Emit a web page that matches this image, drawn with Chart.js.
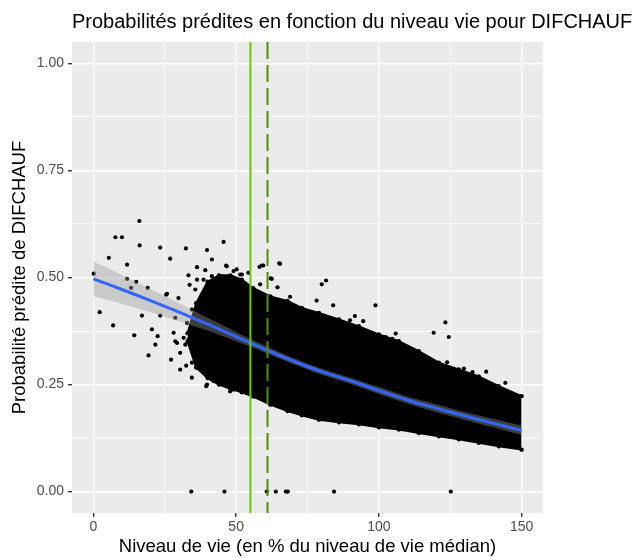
<!DOCTYPE html>
<html lang="fr">
<head>
<meta charset="utf-8">
<script src="https://cdn.jsdelivr.net/npm/chart.js@4.4.1/dist/chart.umd.min.js"></script>
<style>
  body { margin: 0; background: #fff; }
  canvas { display: block; }
</style>
</head>
<body>
<canvas id="probChart" width="638" height="558"></canvas>
<script>
const chartTitle = 'Probabilités prédites en fonction du niveau vie pour DIFCHAUF';

// axis ticks (major labelled, minor only as grid lines)
const xTicks = [0, 50, 100, 150];
const xMinor = [25, 75, 125];
const yTicks = [0, 0.25, 0.5, 0.75, 1];
const yMinor = [0.125, 0.375, 0.625, 0.875];

// fitted logistic curve and its confidence band
const fitX = [0, 10, 20, 30, 40, 50, 60, 70, 80, 90, 100, 110, 120, 130, 140, 150];
const fitY = [0.497, 0.472, 0.446, 0.419, 0.391, 0.362, 0.333, 0.305, 0.280, 0.259, 0.236, 0.214, 0.195, 0.177, 0.160, 0.143];
const ciHigh = [0.538, 0.506, 0.473, 0.440, 0.406, 0.373, 0.341, 0.312, 0.287, 0.266, 0.244, 0.222, 0.204, 0.186, 0.170, 0.154];
const ciLow = [0.456, 0.438, 0.419, 0.398, 0.376, 0.351, 0.325, 0.298, 0.273, 0.252, 0.228, 0.206, 0.186, 0.168, 0.150, 0.132];

// dense body of the point cloud (upper / lower edge)
const cloudX = [33, 36, 40, 44, 48, 52, 56, 62, 68, 73, 79, 86, 93, 100, 107, 114, 121, 128, 135, 142, 150];
const cloudHigh = [0.37, 0.44, 0.49, 0.505, 0.505, 0.495, 0.475, 0.456, 0.445, 0.429, 0.417, 0.402, 0.386, 0.367, 0.351, 0.328, 0.301, 0.285, 0.269, 0.246, 0.223];
const cloudLow = [0.35, 0.29, 0.265, 0.250, 0.240, 0.232, 0.222, 0.203, 0.188, 0.178, 0.168, 0.162, 0.157, 0.150, 0.145, 0.137, 0.129, 0.122, 0.114, 0.106, 0.098];

// individual households outside the dense body
const sparseX = [16.1, 7.7, 10.0, 16.2, 5.4, 23.4, 32.4, 26.9, 45.6, 39.8, 41.5, 11.8, 0.1, 36.3, 33.3, 46.5,
  11.8, 15.0, 13.2, 19.0, 25.8, 2.2, 17.0, 6.9, 20.5, 14.3, 22.5, 21.7, 19.3, 27.2, 29.8, 23.4,
  28.7, 32.8, 28.1, 29.3, 33.3, 30.4, 34.5, 37.4, 39.2, 33.7, 36.3, 25.5, 30.4, 32.5, 34.5, 39.5,
  36.3, 39.8, 42.7, 46.7, 49.1, 32.2, 28.7, 31.6, 35.7, 38.0, 35.1, 42.1, 39.8, 47.9,
  38.6, 41.5, 43.2, 39.8, 37.4, 35.7, 42.1, 34.5, 39.8, 43.2,
  49.1, 51.4, 54.3, 46.7, 58.4, 52.0, 50.2, 59.5, 58.2, 65.4, 62.1, 64.5, 65.1, 59.0, 81.5, 80.0,
  62.5, 68.9, 78.2, 84.0, 89.9, 91.6, 94.5,
  98.8, 123.3, 119.2, 124.5, 105.9, 102.4, 104.7, 123.9, 129.8, 132.8, 137.6, 144.3, 112.0, 107.7];
const sparseY = [0.632, 0.594, 0.594, 0.575, 0.546, 0.570, 0.568, 0.544, 0.583, 0.564, 0.542, 0.530, 0.509, 0.524, 0.505, 0.528,
  0.497, 0.490, 0.476, 0.476, 0.462, 0.419, 0.411, 0.388, 0.379, 0.365, 0.363, 0.343, 0.318, 0.308, 0.452, 0.411,
  0.406, 0.394, 0.371, 0.347, 0.355, 0.324, 0.301, 0.339, 0.517, 0.483, 0.495, 0.460, 0.285, 0.294, 0.266, 0.246,
  0.289, 0.281, 0.262, 0.246, 0.238, 0.343, 0.351, 0.359, 0.324, 0.308, 0.371, 0.258, 0.250, 0.234,
  0.495, 0.503, 0.480, 0.464, 0.449, 0.472, 0.441, 0.425, 0.418, 0.402,
  0.515, 0.507, 0.511, 0.526, 0.484, 0.507, 0.519, 0.528, 0.525, 0.532, 0.498, 0.477, 0.533, 0.528, 0.493, 0.484,
  0.497, 0.455, 0.446, 0.435, 0.400, 0.410, 0.398,
  0.435, 0.395, 0.371, 0.361, 0.369, 0.361, 0.357, 0.302, 0.287, 0.279, 0.280, 0.254, 0.320, 0.329];

// households with a predicted probability of zero
const zeroX = [34.3, 45.9, 60.7, 63.9, 67.4, 68.1, 84.3, 125.2];

// reference lines: poverty threshold (solid) and its variant (dashed)
const seuils = [55, 61];
const seuilStyles = [
  { color: '#66CC00', dash: [] },
  { color: '#4A9300', dash: [17, 6] }
];

const pairs = (xs, ys) => xs.map((x, i) => ({ x: x, y: ys[i] }));

const points = pairs(sparseX, sparseY).concat(zeroX.map(x => ({ x: x, y: 0 })));

const panelBg = {
  id: 'panelBg',
  beforeDraw(chart) {
    const { ctx, chartArea: a } = chart;
    ctx.save();
    ctx.fillStyle = '#EBEBEB';
    ctx.fillRect(a.left, a.top, a.right - a.left, a.bottom - a.top);
    ctx.restore();
  }
};

const seuilLines = {
  id: 'seuilLines',
  afterDatasetsDraw(chart) {
    const { ctx, chartArea: a, scales } = chart;
    ctx.save();
    ctx.beginPath();
    ctx.rect(a.left, a.top, a.right - a.left, a.bottom - a.top);
    ctx.clip();
    seuils.forEach((v, i) => {
      const px = scales.x.getPixelForValue(v);
      ctx.strokeStyle = seuilStyles[i].color;
      ctx.lineWidth = 2;
      ctx.setLineDash(seuilStyles[i].dash);
      ctx.beginPath();
      ctx.moveTo(px, a.top);
      ctx.lineTo(px, a.bottom);
      ctx.stroke();
    });
    ctx.restore();
  }
};

const titre = {
  id: 'titre',
  afterDraw(chart) {
    const ctx = chart.ctx;
    ctx.save();
    ctx.font = '20px "Liberation Sans", Arial, sans-serif';
    ctx.fillStyle = '#000';
    ctx.textBaseline = 'middle';
    ctx.textAlign = 'left';
    ctx.fillText(chartTitle, chart.chartArea.left, 22);
    ctx.restore();
  }
};

Chart.defaults.font.family = '"Liberation Sans", Arial, sans-serif';

const isMajor = (list, v) => list.some(t => Math.abs(t - v) < 1e-9);

new Chart(document.getElementById('probChart'), {
  type: 'scatter',
  data: {
    datasets: [
      {
        type: 'line',
        data: pairs(fitX, fitY),
        borderColor: '#3366FF',
        borderWidth: 3,
        pointRadius: 0,
        tension: 0.4,
        fill: false
      },
      {
        type: 'line',
        data: pairs(fitX, ciHigh),
        borderWidth: 0,
        pointRadius: 0,
        tension: 0.4,
        fill: '+1',
        backgroundColor: 'rgba(153,153,153,0.4)'
      },
      {
        type: 'line',
        data: pairs(fitX, ciLow),
        borderWidth: 0,
        pointRadius: 0,
        tension: 0.4,
        fill: false
      },
      {
        data: points,
        backgroundColor: '#000',
        pointRadius: 2.1,
        pointBorderWidth: 0
      },
      {
        type: 'line',
        data: pairs(cloudX, cloudHigh),
        borderColor: '#000',
        borderWidth: 2,
        pointRadius: 2.2,
        pointBackgroundColor: '#000',
        pointBorderWidth: 0,
        tension: 0,
        fill: '+1',
        backgroundColor: '#000'
      },
      {
        type: 'line',
        data: pairs(cloudX, cloudLow),
        borderColor: '#000',
        borderWidth: 2,
        pointRadius: 2.2,
        pointBackgroundColor: '#000',
        pointBorderWidth: 0,
        tension: 0,
        fill: false
      }
    ]
  },
  options: {
    responsive: false,
    animation: false,
    layout: { padding: { top: 42, right: 95, left: 0, bottom: 0 } },
    plugins: {
      legend: { display: false },
      tooltip: { enabled: false }
    },
    scales: {
      x: {
        type: 'linear',
        min: -7.5,
        max: 157.5,
        afterBuildTicks: s => { s.ticks = xTicks.concat(xMinor).sort((a, b) => a - b).map(v => ({ value: v })); },
        afterFit: s => { s.height = 45; },
        border: { display: false },
        grid: {
          color: '#FFFFFF',
          lineWidth: c => isMajor(xTicks, c.tick.value) ? 1.4 : 0.7,
          tickColor: c => isMajor(xTicks, c.tick.value) ? '#333333' : 'rgba(0,0,0,0)',
          tickLength: 4
        },
        ticks: {
          color: '#4D4D4D',
          font: { size: 14 },
          padding: 2,
          maxRotation: 0,
          autoSkip: false,
          callback: v => isMajor(xTicks, v) ? String(v) : ''
        },
        title: {
          display: true,
          text: 'Niveau de vie (en % du niveau de vie médian)',
          color: '#000',
          font: { size: 18.5 },
          padding: { top: 0, bottom: 0 }
        }
      },
      y: {
        type: 'linear',
        min: -0.05,
        max: 1.05,
        afterBuildTicks: s => { s.ticks = yTicks.concat(yMinor).sort((a, b) => a - b).map(v => ({ value: v })); },
        afterFit: s => { s.width = 72; },
        border: { display: false },
        grid: {
          color: '#FFFFFF',
          lineWidth: c => isMajor(yTicks, c.tick.value) ? 1.4 : 0.7,
          tickColor: c => isMajor(yTicks, c.tick.value) ? '#333333' : 'rgba(0,0,0,0)',
          tickLength: 4
        },
        ticks: {
          color: '#4D4D4D',
          font: { size: 14 },
          padding: 4,
          autoSkip: false,
          callback: v => isMajor(yTicks, v) ? v.toFixed(2) : ''
        },
        title: {
          display: true,
          text: 'Probabilité prédite de DIFCHAUF',
          color: '#000',
          font: { size: 18.5 },
          padding: { top: 9, bottom: 0 }
        }
      }
    }
  },
  plugins: [panelBg, seuilLines, titre]
});
</script>
</body>
</html>
